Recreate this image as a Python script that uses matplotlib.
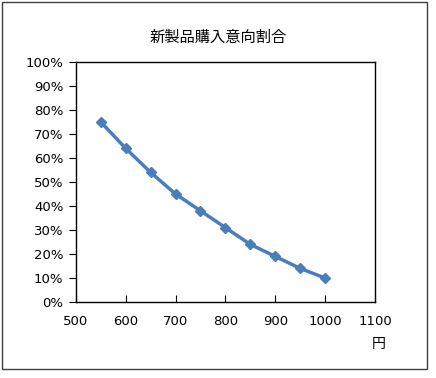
import matplotlib.pyplot as plt
from matplotlib.patches import Rectangle
from matplotlib.ticker import PercentFormatter

plt.rcParams['font.family'] = ['DejaVu Sans', 'Noto Sans CJK JP']

prices = [550, 600, 650, 700, 750, 800, 850, 900, 950, 1000]
intent = [75, 64, 54, 45, 38, 31, 24, 19, 14, 10]

fig = plt.figure(figsize=(4.36, 3.78), dpi=100)
ax = fig.add_axes([0.174, 0.201, 0.686, 0.635])

ax.plot(prices, intent, color='#4a7ebb', linewidth=2.5, marker='D', markersize=5.5)

ax.set_xlim(500, 1100)
ax.set_ylim(0, 100)
ax.set_xticks(range(500, 1101, 100))
ax.set_yticks(range(0, 101, 10))
ax.yaxis.set_major_formatter(PercentFormatter(decimals=0))
ax.tick_params(axis='x', direction='in', length=5, labelsize=9.5, pad=9, colors='black')
ax.tick_params(axis='y', direction='out', length=5, labelsize=9.5, pad=4)
for s in ax.spines.values():
    s.set_color('black')
    s.set_linewidth(1)

fig.text(0.5, 0.9, '新製品購入意向割合', ha='center', va='center', fontsize=11,
         family=['Noto Sans CJK JP', 'DejaVu Sans'])
fig.text(0.868, 0.09, '円', ha='center', va='center', fontsize=10,
         family=['Noto Sans CJK JP', 'DejaVu Sans'])

fig.patches.append(Rectangle((0.005, 0.024), 0.975, 0.97, transform=fig.transFigure,
                             fill=False, edgecolor='#404040', linewidth=1))

plt.savefig('out.png', dpi=100)
